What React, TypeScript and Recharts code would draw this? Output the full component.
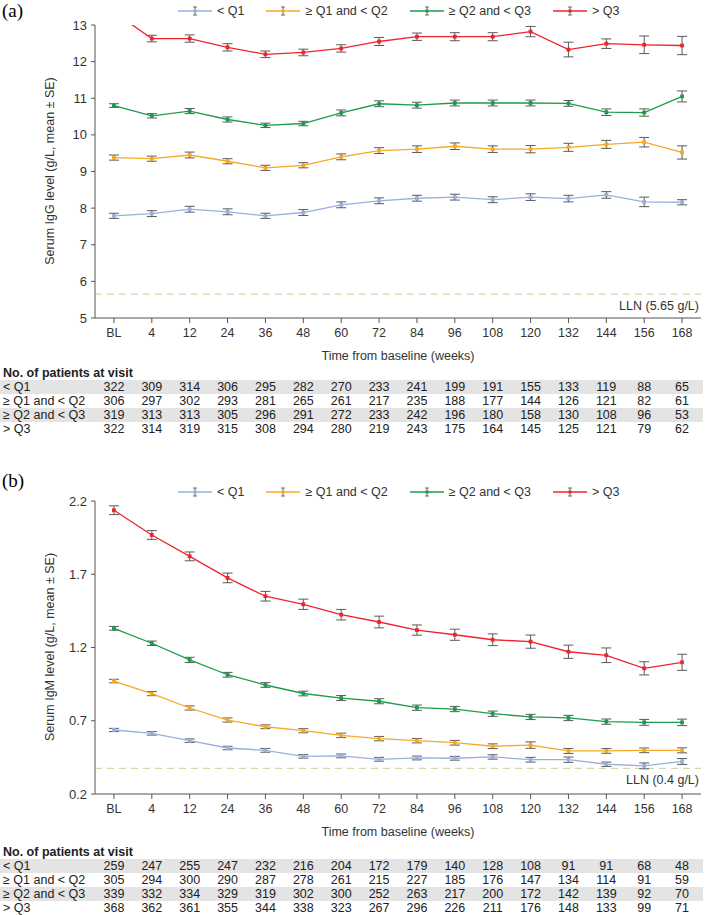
import { LineChart, Line, XAxis, YAxis, ErrorBar, ReferenceLine } from "recharts";

// visits
const WEEKS = ["BL", "4", "12", "24", "36", "48", "60", "72", "84", "96", "108", "120", "132", "144", "156", "168"];
const GROUPS = ["< Q1", "≥ Q1 and < Q2", "≥ Q2 and < Q3", "> Q3"];
const COLORS = ["#98b0de", "#f8a923", "#1c9c4a", "#f0232c"];

// panel (a) IgG, g/L
const IGG_Q1 = [7.79, 7.85, 7.97, 7.9, 7.79, 7.88, 8.09, 8.2, 8.27, 8.3, 8.23, 8.3, 8.26, 8.36, 8.17, 8.16];
const IGG_Q2 = [9.38, 9.35, 9.45, 9.28, 9.1, 9.17, 9.4, 9.57, 9.61, 9.69, 9.61, 9.61, 9.66, 9.74, 9.8, 9.52];
const IGG_Q3 = [10.8, 10.52, 10.65, 10.42, 10.26, 10.31, 10.6, 10.85, 10.81, 10.87, 10.87, 10.87, 10.86, 10.62, 10.61, 11.05];
const IGG_Q4 = [13.35, 12.63, 12.63, 12.39, 12.2, 12.25, 12.36, 12.55, 12.68, 12.68, 12.68, 12.82, 12.33, 12.49, 12.46, 12.44];
const IGG_Q1_SE = [0.07, 0.08, 0.08, 0.08, 0.07, 0.08, 0.08, 0.08, 0.08, 0.08, 0.08, 0.09, 0.09, 0.09, 0.13, 0.07];
const IGG_Q2_SE = [0.07, 0.07, 0.08, 0.07, 0.07, 0.07, 0.08, 0.08, 0.09, 0.09, 0.09, 0.1, 0.11, 0.11, 0.13, 0.18];
const IGG_Q3_SE = [0.05, 0.06, 0.07, 0.07, 0.06, 0.06, 0.08, 0.08, 0.08, 0.08, 0.08, 0.08, 0.08, 0.09, 0.1, 0.15];
const IGG_Q4_SE = [0.1, 0.09, 0.1, 0.1, 0.09, 0.09, 0.1, 0.11, 0.1, 0.11, 0.11, 0.14, 0.2, 0.13, 0.24, 0.25];
const IGG_TICKS = [5, 6, 7, 8, 9, 10, 11, 12, 13];
const IGG_LLN = 5.65;

// panel (b) IgM, g/L
const IGM_Q1 = [0.637, 0.614, 0.564, 0.514, 0.498, 0.457, 0.46, 0.437, 0.446, 0.444, 0.453, 0.434, 0.434, 0.403, 0.392, 0.422];
const IGM_Q2 = [0.971, 0.885, 0.787, 0.705, 0.659, 0.632, 0.6, 0.578, 0.564, 0.55, 0.526, 0.534, 0.494, 0.494, 0.498, 0.498];
const IGM_Q3 = [1.331, 1.229, 1.115, 1.014, 0.944, 0.886, 0.855, 0.833, 0.789, 0.78, 0.748, 0.726, 0.719, 0.694, 0.689, 0.689];
const IGM_Q4 = [2.137, 1.968, 1.822, 1.675, 1.55, 1.495, 1.424, 1.374, 1.319, 1.287, 1.253, 1.24, 1.171, 1.147, 1.058, 1.099];
const IGM_Q1_SE = [0.011, 0.012, 0.012, 0.012, 0.013, 0.012, 0.013, 0.013, 0.013, 0.013, 0.015, 0.016, 0.018, 0.015, 0.02, 0.02];
const IGM_Q2_SE = [0.012, 0.014, 0.014, 0.014, 0.013, 0.014, 0.015, 0.015, 0.015, 0.016, 0.016, 0.022, 0.017, 0.016, 0.016, 0.017];
const IGM_Q3_SE = [0.013, 0.015, 0.018, 0.016, 0.016, 0.016, 0.017, 0.017, 0.018, 0.018, 0.018, 0.018, 0.018, 0.018, 0.02, 0.022];
const IGM_Q4_SE = [0.03, 0.03, 0.03, 0.033, 0.033, 0.035, 0.036, 0.04, 0.035, 0.038, 0.04, 0.045, 0.045, 0.05, 0.045, 0.055];
const IGM_TICKS = [0.2, 0.7, 1.2, 1.7, 2.2];
const IGM_LLN = 0.375; // where the dashed line sits in the figure

// No. of patients at visit
const IGG_N_Q1 = [322, 309, 314, 306, 295, 282, 270, 233, 241, 199, 191, 155, 133, 119, 88, 65];
const IGG_N_Q2 = [306, 297, 302, 293, 281, 265, 261, 217, 235, 188, 177, 144, 126, 121, 82, 61];
const IGG_N_Q3 = [319, 313, 313, 305, 296, 291, 272, 233, 242, 196, 180, 158, 130, 108, 96, 53];
const IGG_N_Q4 = [322, 314, 319, 315, 308, 294, 280, 219, 243, 175, 164, 145, 125, 121, 79, 62];
const IGM_N_Q1 = [259, 247, 255, 247, 232, 216, 204, 172, 179, 140, 128, 108, 91, 91, 68, 48];
const IGM_N_Q2 = [305, 294, 300, 290, 287, 278, 261, 215, 227, 185, 176, 147, 134, 114, 91, 59];
const IGM_N_Q3 = [339, 332, 334, 329, 319, 302, 300, 252, 263, 217, 200, 172, 142, 139, 92, 70];
const IGM_N_Q4 = [368, 362, 361, 355, 344, 338, 323, 267, 296, 226, 211, 176, 148, 133, 99, 71];

const FONT = "'Liberation Sans Narrow', 'Arial Narrow', 'Liberation Sans', Arial, sans-serif";
const AXIS = "#555";
const PLOT_LEFT = 95;
const PLOT_RIGHT = 701;
const BAND = (PLOT_RIGHT - PLOT_LEFT) / WEEKS.length;

type PanelProps = {
  top: number;
  letter: string;
  yLabel: string;
  domain: [number, number];
  ticks: number[];
  means: number[][];
  ses: number[][];
  lln: number;
  llnLabel: string;
  counts: number[][];
  legendDy?: number;
  letterDy?: number;
  tableDy?: number;
};

function LegendIcon({ color }: { color: string }) {
  return (
    <svg width={34} height={12} style={{ display: "block" }}>
      <line x1={0} y1={6} x2={34} y2={6} stroke={color} strokeWidth={2} strokeOpacity={0.75} />
      <line x1={17} y1={2} x2={17} y2={10} stroke="#666" strokeWidth={1} />
      <line x1={15} y1={2} x2={19} y2={2} stroke="#666" strokeWidth={1} />
      <line x1={15} y1={10} x2={19} y2={10} stroke="#666" strokeWidth={1} />
      <rect x={15.5} y={4.5} width={3} height={3} fill={color} />
    </svg>
  );
}

function Panel({
  top,
  letter,
  yLabel,
  domain,
  ticks,
  means,
  ses,
  lln,
  llnLabel,
  counts,
  legendDy = 0,
  letterDy = 0,
  tableDy = 0,
}: PanelProps) {
  const data = WEEKS.map((w, i) => {
    const row: Record<string, number | string> = { week: w };
    means.forEach((m, g) => {
      row["m" + g] = m[i];
      row["e" + g] = ses[g][i];
    });
    return row;
  });

  return (
    <div style={{ position: "absolute", left: 0, top, width: 705, height: 440 }}>
      <div
        style={{
          position: "absolute",
          left: 2,
          top: 1 + letterDy,
          fontFamily: "'Liberation Serif', 'Times New Roman', serif",
          fontSize: 19,
          lineHeight: "20px",
        }}
      >
        {letter}
      </div>

      <div
        style={{
          position: "absolute",
          left: 178,
          top: 4 + legendDy,
          display: "flex",
          gap: 22,
          fontFamily: FONT,
          fontSize: 12.5,
          color: "#333",
          lineHeight: "14px",
        }}
      >
        {GROUPS.map((g, i) => (
          <div key={g} style={{ display: "flex", alignItems: "center", gap: 5 }}>
            <LegendIcon color={COLORS[i]} />
            <span>{g}</span>
          </div>
        ))}
      </div>

      <div style={{ position: "absolute", left: 0, top: 0 }}>
        <LineChart width={705} height={350} data={data} margin={{ top: 25, right: 4, left: 35, bottom: 2 }}>
          <XAxis
            dataKey="week"
            interval={0}
            height={30}
            padding={{ left: BAND / 2, right: BAND / 2 }}
            tickSize={5}
            tickMargin={5}
            axisLine={{ stroke: AXIS }}
            tickLine={{ stroke: AXIS }}
            tick={{ fill: "#333", fontSize: 12.5, fontFamily: FONT }}
          />
          <YAxis
            width={60}
            domain={domain}
            ticks={ticks}
            allowDataOverflow
            tickSize={4}
            tickMargin={4}
            axisLine={{ stroke: AXIS }}
            tickLine={{ stroke: AXIS }}
            tick={{ fill: "#333", fontSize: 13, fontFamily: FONT }}
          />
          <ReferenceLine
            y={lln}
            stroke="#c9dda6"
            strokeWidth={1.2}
            strokeDasharray="7 5"
            label={({ viewBox }: any) => (
              <text
                x={viewBox.x + viewBox.width - 2}
                y={viewBox.y + 16}
                textAnchor="end"
                fontSize={12.5}
                fontFamily={FONT}
                fill="#333"
              >
                {llnLabel}
              </text>
            )}
          />
          {means.map((_, g) => (
            <Line
              key={g}
              dataKey={"m" + g}
              stroke={COLORS[g]}
              strokeWidth={1.3}
              isAnimationActive={false}
              dot={(p: any) => (
                <rect key={p.index} x={p.cx - 1.9} y={p.cy - 1.9} width={3.8} height={3.8} fill={COLORS[g]} />
              )}
              activeDot={false}
            >
              {/* points above the axis top are clipped away, so their bars are too */}
              <ErrorBar
                dataKey={(d: any) => (d["m" + g] > domain[1] ? null : d["e" + g])}
                width={5}
                strokeWidth={1}
                stroke="#5a5a5a"
                isAnimationActive={false}
              />
            </Line>
          ))}
        </LineChart>
      </div>

      <div
        style={{
          position: "absolute",
          left: 50 - 130,
          top: 171 - 8,
          width: 260,
          height: 16,
          lineHeight: "16px",
          textAlign: "center",
          transform: "rotate(-90deg)",
          fontFamily: FONT,
          fontSize: 12.5,
          color: "#333",
          whiteSpace: "nowrap",
        }}
      >
        {yLabel}
      </div>

      <div
        style={{
          position: "absolute",
          left: (PLOT_LEFT + PLOT_RIGHT) / 2 - 150,
          top: 349,
          width: 300,
          textAlign: "center",
          fontFamily: FONT,
          fontSize: 12.5,
          color: "#333",
          lineHeight: "14px",
        }}
      >
        Time from baseline (weeks)
      </div>

      <div style={{ position: "absolute", left: 0, top: 366 + tableDy, width: 703, fontFamily: FONT, color: "#222" }}>
        <div style={{ height: 14, lineHeight: "14px", fontSize: 12.5, fontWeight: "bold", paddingLeft: 3 }}>
          No. of patients at visit
        </div>
        {counts.map((row, r) => (
          <div
            key={r}
            style={{
              position: "relative",
              height: 14,
              lineHeight: "14px",
              fontSize: 12.5,
              background: r % 2 === 0 ? "#e4e4e4" : "transparent",
            }}
          >
            <span style={{ position: "absolute", left: 3 }}>{GROUPS[r]}</span>
            {row.map((n, i) => (
              <span
                key={i}
                style={{
                  position: "absolute",
                  left: PLOT_LEFT + (i + 0.5) * BAND - 20,
                  width: 40,
                  textAlign: "center",
                }}
              >
                {n}
              </span>
            ))}
          </div>
        ))}
      </div>
    </div>
  );
}

export default function App() {
  return (
    <div style={{ position: "absolute", left: 0, top: 0, width: 705, height: 915, background: "#fff" }}>
      <Panel
        top={0}
        letter="(a)"
        yLabel="Serum IgG level (g/L, mean ± SE)"
        domain={[5, 13]}
        ticks={IGG_TICKS}
        means={[IGG_Q1, IGG_Q2, IGG_Q3, IGG_Q4]}
        ses={[IGG_Q1_SE, IGG_Q2_SE, IGG_Q3_SE, IGG_Q4_SE]}
        lln={IGG_LLN}
        llnLabel="LLN (5.65 g/L)"
        counts={[IGG_N_Q1, IGG_N_Q2, IGG_N_Q3, IGG_N_Q4]}
      />
      <Panel
        top={476}
        letter="(b)"
        yLabel="Serum IgM level (g/L, mean ± SE)"
        domain={[0.2, 2.2]}
        ticks={IGM_TICKS}
        means={[IGM_Q1, IGM_Q2, IGM_Q3, IGM_Q4]}
        ses={[IGM_Q1_SE, IGM_Q2_SE, IGM_Q3_SE, IGM_Q4_SE]}
        lln={IGM_LLN}
        llnLabel="LLN (0.4 g/L)"
        counts={[IGM_N_Q1, IGM_N_Q2, IGM_N_Q3, IGM_N_Q4]}
        legendDy={5}
        letterDy={-6}
        tableDy={3}
      />
    </div>
  );
}
